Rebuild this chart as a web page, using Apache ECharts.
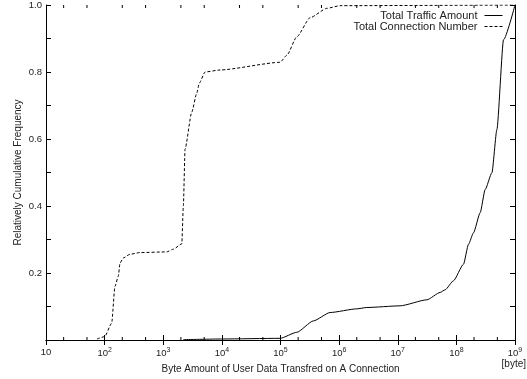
<!DOCTYPE html>
<html>
<head>
<meta charset="utf-8">
<script src="https://cdn.jsdelivr.net/npm/echarts@6/dist/echarts.min.js"></script>
<style>html,body{margin:0;padding:0;background:#fff}#c{width:527px;height:379px}</style>
</head>
<body>
<div id="c"></div>
<script>
// ---- data ----
var seriesNames = ['Total Traffic Amount', 'Total Connection Number'];

var trafficX = [2200, 10000, 98400, 189700, 363900, 701500, 2004000, 2972000, 10990000, 31410000, 52970000, 64420000, 89330000, 132100000, 161100000, 195900000, 254700000, 309700000, 403600000, 490900000, 636800000, 1000000000];
var trafficY = [0.001, 0.003, 0.005, 0.023, 0.057, 0.082, 0.093, 0.097, 0.102, 0.120, 0.142, 0.150, 0.177, 0.226, 0.286, 0.320, 0.380, 0.449, 0.499, 0.628, 0.896, 1.0];

var connX = [74, 100, 132, 150, 171, 183, 208, 271, 402, 1148, 1486, 2070, 2203, 2355, 3062, 3733, 4130, 5164, 9311, 98400, 128200, 189700, 319900, 616600, 1040000, 1000000000];
var connY = [0.003, 0.010, 0.050, 0.160, 0.190, 0.230, 0.245, 0.256, 0.261, 0.263, 0.271, 0.287, 0.400, 0.570, 0.680, 0.737, 0.767, 0.800, 0.806, 0.829, 0.850, 0.905, 0.962, 0.990, 0.998, 1.0];

var xTickExponents = ['', '2', '3', '4', '5', '6', '7', '8', '9'];
var xMinorTicks = [20, 50, 200, 500, 2000, 5000, 20000, 50000, 200000, 500000, 2000000, 5000000, 20000000, 50000000, 200000000, 500000000];
var yTickLabels = ['', '', '0.2', '', '0.4', '', '0.6', '', '0.8', '', '1.0'];

function zip(a, b) { return a.map(function (v, i) { return [v, b[i]]; }); }

var chart = echarts.init(document.getElementById('c'), null, {renderer: 'canvas'});
var FONT = 'Liberation Sans';
var TXT = '#222';

var xBase = {
  type: 'log', logBase: 10, min: 10, max: 1000000000, splitNumber: 8,
  axisLine: {lineStyle: {color: '#000', width: 1}},
  axisTick: {inside: true, length: 5, lineStyle: {color: '#000', width: 1}},
  minorTick: {show: false},
  splitLine: {show: false}
};
var yBase = {
  type: 'value', min: 0, max: 1, interval: 0.1,
  axisLine: {show: true, lineStyle: {color: '#000', width: 1}},
  axisTick: {inside: true, length: 5, lineStyle: {color: '#000', width: 1}},
  splitLine: {show: false}
};

var option = {
  animation: false,
  backgroundColor: '#fff',
  textStyle: {fontFamily: FONT},
  grid: {left: 46, right: 12, top: 5, bottom: 38, containLabel: false},
  legend: {
    orient: 'vertical', right: 24, top: 10, align: 'right', itemGap: 0, padding: 0,
    itemWidth: 18, itemHeight: 8,
    itemStyle: {opacity: 0},
    lineStyle: {width: 1},
    textStyle: {fontFamily: FONT, fontSize: 11, color: TXT, padding: [0, 2, 0, 0]},
    data: seriesNames
  },
  xAxis: [
    Object.assign({}, xBase, {
      position: 'bottom',
      name: 'Byte Amount of User Data Transfred on A Connection',
      nameLocation: 'middle', nameGap: 24, nameMoveOverlap: false,
      nameTextStyle: {fontFamily: FONT, fontSize: 10, color: TXT},
      axisLabel: {
        margin: 7, color: TXT, fontFamily: FONT, fontSize: 9,
        formatter: function (v) {
          var e = Math.round(Math.log10(v));
          var s = xTickExponents[e - 1];
          return s ? '{b|10}{s|' + s + '}' : '{b|10}';
        },
        rich: {
          b: {fontFamily: FONT, fontSize: 9.5, color: TXT},
          s: {fontFamily: FONT, fontSize: 7, color: TXT, verticalAlign: 'top', padding: [0, 0, 6, 0]}
        }
      }
    }),
    Object.assign({}, xBase, {position: 'top', axisLabel: {show: false}})
  ],
  yAxis: [
    Object.assign({}, yBase, {
      position: 'left',
      name: 'Relatively Cumulative Frequency',
      nameLocation: 'middle', nameGap: 23, nameRotate: 90, nameMoveOverlap: false,
      nameTextStyle: {fontFamily: FONT, fontSize: 10, color: TXT},
      axisLabel: {
        margin: 4, color: TXT, fontFamily: FONT, fontSize: 9.5,
        formatter: function (v) { return yTickLabels[Math.round(v * 10)] || ''; }
      }
    }),
    Object.assign({}, yBase, {position: 'right', axisLabel: {show: false}})
  ],
  graphic: [{
    type: 'text', right: 1, bottom: 10,
    style: {text: '[byte]', fontFamily: FONT, fontSize: 10, fill: TXT}
  }],
  series: [
    {
      name: seriesNames[0], type: 'line', data: zip(trafficX, trafficY),
      showSymbol: false, symbol: 'none', smooth: 0.2, smoothMonotone: 'x',
      lineStyle: {color: '#000', width: 1, type: 'solid'},
      itemStyle: {color: '#000'}
    },
    {
      name: seriesNames[1], type: 'line', data: zip(connX, connY),
      showSymbol: false, symbol: 'none', smooth: 0.2, smoothMonotone: 'x',
      lineStyle: {color: '#000', width: 1, type: [3, 2]},
      itemStyle: {color: '#000'}
    },
    {
      type: 'custom', silent: true, data: xMinorTicks.map(function (v) { return [v]; }),
      encode: {x: 0},
      renderItem: function (params, api) {
        var v = api.value(0);
        var b = api.coord([v, 0]);
        var t = api.coord([v, 1]);
        var st = {stroke: '#000', lineWidth: 1};
        return {type: 'group', children: [
          {type: 'line', shape: {x1: b[0], y1: b[1], x2: b[0], y2: b[1] - 3}, style: st},
          {type: 'line', shape: {x1: t[0], y1: t[1], x2: t[0], y2: t[1] + 3}, style: st}
        ]};
      }
    }
  ]
};
chart.setOption(option);
</script>
</body>
</html>
